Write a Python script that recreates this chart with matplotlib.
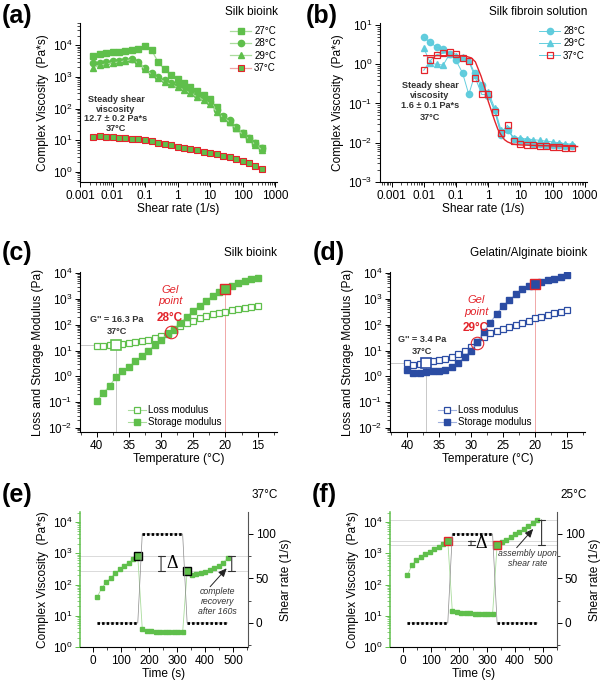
import matplotlib
matplotlib.use('Agg')
import matplotlib.pyplot as plt
from matplotlib import ticker

plt.rcParams['font.family'] = ['Liberation Sans', 'DejaVu Sans']
plt.rcParams['axes.linewidth'] = 0.8

# ---- data ----
# (a) silk bioink, complex viscosity vs shear rate
shear_a = [0.0025, 0.004, 0.0063, 0.01, 0.016, 0.025, 0.04, 0.063, 0.1, 0.16, 0.25, 0.4, 0.63,
           1, 1.6, 2.5, 4, 6.3, 10, 16, 25, 40, 63, 100, 160, 250, 400]
visc_27 = [4510, 5080, 5470, 5880, 6170, 6480, 6960, 7850, 9300, 6960, 2990, 1710, 1135, 830, 621,
           488, 365, 266, 195, 109, 55, 38, 23.7, 16.5, 11.5, 8.4, 5.6]
visc_28 = [2650, 2780, 2920, 3060, 3210, 3370, 3630, 2990, 1930, 1280, 960, 790, 652, 550, 432,
           356, 266, 209, 164, 90, 58, 43, 25.5, 17.3, 11.5, 8.0, 5.6]
visc_29 = [1930, 2340, 2520, 2780, 2920, 3210, 3530, 2660, 1760, 1190, 890, 700, 575, 465, 385,
           300, 235, 185, 140, 80, 52, 38, 23.7, 15.5, 10.8, 7.1, 4.9]
visc_37 = [13.0, 13.6, 12.4, 12.4, 12.1, 11.8, 11.2, 11.0, 10.2, 9.25, 8.4, 7.6, 6.9, 6.3, 5.7,
           5.3, 4.8, 4.26, 3.96, 3.6, 3.19, 2.9, 2.57, 2.22, 1.87, 1.55, 1.24]

# (b) silk fibroin solution
shear_b = [0.01, 0.016, 0.025, 0.04, 0.063, 0.1, 0.16, 0.25, 0.4, 0.63, 1, 1.6, 2.5, 4, 6.3,
           10, 16, 25, 40, 63, 100, 160, 250, 400]
visc_b28 = [4.8, 3.6, 2.7, 2.4, 1.8, 1.25, 0.6, 0.17, 0.6, 0.3, 0.155, 0.068, 0.016, 0.021,
            0.0128, 0.0115, 0.011, 0.0095, 0.0092, 0.009, 0.0088, 0.0087, 0.0085, 0.0082]
visc_b29 = [2.6, 1.05, 1.0, 0.95, 1.8, 1.6, 1.5, 1.3, 0.53, 0.25, 0.2, 0.076, 0.021, 0.023,
            0.013, 0.013, 0.0125, 0.012, 0.0115, 0.011, 0.0105, 0.01, 0.0095, 0.0092]
visc_b37 = [0.7, 1.25, 1.75, 1.9, 2.0, 1.8, 1.45, 1.2, 0.45, 0.17, 0.17, 0.062, 0.018, 0.028,
            0.011, 0.0095, 0.009, 0.0088, 0.0085, 0.0082, 0.008, 0.0078, 0.0075, 0.0072]
fit_x = [0.01, 0.1, 0.2, 0.3, 0.4, 0.6, 0.8, 1.0, 1.3, 1.6, 2.0, 2.5, 3.2, 4, 6, 10, 30, 100, 600]
fit_y = [1.65, 1.65, 1.6, 1.45, 1.15, 0.5, 0.24, 0.115, 0.06, 0.036, 0.022, 0.016, 0.012,
         0.0105, 0.0092, 0.0088, 0.0085, 0.0083, 0.008]

# (c)/(d) temperature sweeps
temp = [40, 39, 38, 37, 36, 35, 34, 33, 32, 31, 30, 29, 28, 27, 26, 25, 24, 23, 22, 21, 20,
        19, 18, 17, 16, 15]
loss_c = [14.9, 14.9, 15.8, 16.3, 17.8, 19.5, 20.7, 23.3, 26.2, 30.4, 36.3, 46, 62, 91, 112,
          143, 175, 216, 251, 274, 309, 358, 392, 441, 482, 527]
storage_c = [0.114, 0.22, 0.43, 0.94, 1.56, 2.36, 3.8, 5.9, 9.8, 16.3, 26.2, 43, 66, 112, 204,
             337, 543, 848, 1285, 1780, 2400, 3130, 3970, 4890, 5680, 6400]
loss_d = [3.2, 2.76, 3.0, 3.4, 3.83, 4.3, 4.7, 5.8, 7.4, 9.9, 14.1, 20.8, 32.5, 46, 57, 68, 84,
          98, 120, 144, 177, 205, 238, 276, 320, 371]
storage_d = [1.77, 1.31, 1.31, 1.52, 1.66, 1.66, 1.77, 2.24, 3.2, 5.8, 9.9, 22, 54, 120, 260,
             530, 905, 1500, 2340, 3150, 3700, 4500, 5300, 6100, 7200, 8300]
gel_c = (28.5, 50)
gel_d = (29, 19)

# (e)/(f) recovery tests
time_s = [16, 32, 48, 64, 80, 96, 112, 128, 144, 160, 176, 192, 208, 224, 240, 256, 272, 288,
          304, 320, 336, 352, 368, 384, 400, 416, 432, 448, 464, 480]
visc_e = [40.8, 79, 117, 166, 228, 305, 401, 500, 639, 796, 3.77, 3.33, 3.17, 3.1, 3.02, 3.0,
          3.0, 3.0, 3.0, 3.0, 270, 201, 211, 228, 251, 284, 329, 391, 500, 689]
visc_f = [201, 421, 608, 776, 923, 1122, 1334, 1622, 1928, 2466, 14.6, 12.9, 12.3, 11.9, 11.9,
          11.6, 11.6, 11.6, 11.4, 11.4, 1790, 2232, 2722, 3311, 4030, 4900, 5820, 7260, 9060, 11590]
shear_time = [16, 160, 176, 320, 336, 480]
shear_rate = [0, 0, 100, 100, 0, 0]
key_idx = [9, 20]

GREEN = '#5fbf4b'
GREEN_LINE = '#a9dc9c'
CYAN = '#5ccbdc'
BLUE = '#2b4ca3'
BLUE_LINE = '#9fb0dd'
RED = '#e3242b'
LAB = 8.6

W, H = 600, 682
fig = plt.figure(figsize=(6, 6.82), dpi=100)


def px_axes(l, t, r, b):
    return fig.add_axes([l / W, 1 - b / H, (r - l) / W, (b - t) / H])


def ftext(x, y, s, **kw):
    kw.setdefault('va', 'center')
    fig.text(x / W, 1 - y / H, s, **kw)


def style_ax(ax):
    ax.spines['top'].set_visible(False)
    ax.spines['right'].set_visible(False)
    ax.tick_params(which='major', direction='out', length=3.5, width=0.7, labelsize=8.5, pad=2)
    ax.tick_params(which='minor', direction='out', length=2, width=0.5)


def log_y(ax):
    ax.set_yscale('log')
    ax.yaxis.set_major_locator(ticker.LogLocator(base=10, numticks=12))
    ax.yaxis.set_minor_locator(ticker.LogLocator(base=10, subs=range(2, 10), numticks=12))
    ax.yaxis.set_minor_formatter(ticker.NullFormatter())


def log_x(ax):
    ax.set_xscale('log')
    ax.xaxis.set_major_locator(ticker.LogLocator(base=10, numticks=12))
    ax.xaxis.set_minor_locator(ticker.LogLocator(base=10, subs=range(2, 10), numticks=12))
    ax.xaxis.set_major_formatter(ticker.FuncFormatter(lambda v, p: f'{v:g}'))
    ax.xaxis.set_minor_formatter(ticker.NullFormatter())


leg_kw = dict(frameon=False, fontsize=7, handlelength=2.2, handletextpad=0.3,
              labelspacing=0.25, borderpad=0, borderaxespad=0,
              bbox_transform=fig.transFigure)
note = dict(fontsize=6.6, fontweight='bold', ha='center', color='#333333')

# ---------------- (a) ----------------
ax = px_axes(80, 23, 277, 182)
style_ax(ax)
log_x(ax)
log_y(ax)
ax.plot(shear_a, visc_27, '-s', color=GREEN_LINE, mfc=GREEN, mec=GREEN, ms=4, lw=0.9, label='27°C')
ax.plot(shear_a, visc_28, '-o', color=GREEN_LINE, mfc=GREEN, mec=GREEN, ms=4.5, lw=0.9, label='28°C')
ax.plot(shear_a, visc_29, '-^', color=GREEN_LINE, mfc=GREEN, mec=GREEN, ms=4.5, lw=0.9, label='29°C')
ax.plot(shear_a, visc_37, '-s', color='#f2a3a3', mfc=GREEN, mec=RED, mew=0.8, ms=4.3, lw=0.9,
        label='37°C')
ax.set_xlim(10 ** -3.0, 10 ** 3.06)
ax.set_ylim(10 ** -0.32, 10 ** 4.7)
ax.set_xlabel('Shear rate (1/s)', fontsize=LAB, labelpad=1)
ax.set_ylabel('Complex Viscosity  (Pa*s)', fontsize=LAB, labelpad=3)
ax.legend(loc='upper right', bbox_to_anchor=(276 / W, 1 - 26 / H), **leg_kw)
ftext(116, 100, 'Steady shear', **note)
ftext(116, 109, 'viscosity', **note)
ftext(116, 118.5, '12.7 ± 0.2 Pa*s', **note)
ftext(116, 128.5, '37°C', **note)
ftext(2, 16, '(a)', fontsize=18, fontweight='bold', ha='left')
ftext(278, 12, 'Silk bioink', fontsize=8.5, ha='right')

# ---------------- (b) ----------------
ax = px_axes(380, 23, 587, 182)
style_ax(ax)
log_x(ax)
log_y(ax)
ax.plot(shear_b, visc_b28, '-o', color=CYAN, mfc=CYAN, mec=CYAN, ms=4.5, lw=0.7, alpha=0.95,
        label='28°C')
ax.plot(shear_b, visc_b29, '-^', color=CYAN, mfc=CYAN, mec=CYAN, ms=4.5, lw=0.7, alpha=0.95,
        label='29°C')
ax.plot(shear_b, visc_b37, '-s', color=CYAN, mfc='none', mec=RED, mew=0.9, ms=4.5, lw=0.7,
        label='37°C')
ax.plot(fit_x, fit_y, '-', color=RED, lw=1.0)
ax.set_xlim(10 ** -3.36, 10 ** 3.07)
ax.set_ylim(1e-3, 10 ** 1.05)
ax.set_xlabel('Shear rate (1/s)', fontsize=LAB, labelpad=1)
ax.set_ylabel('Complex Viscosity  (Pa*s)', fontsize=LAB, labelpad=3)
ax.legend(loc='upper right', bbox_to_anchor=(585 / W, 1 - 26 / H), **leg_kw)
ftext(430, 86, 'Steady shear', **note)
ftext(430, 95, 'viscosity', **note)
ftext(430, 106, '1.6 ± 0.1 Pa*s', **note)
ftext(430, 117, '37°C', **note)
ftext(306, 16, '(b)', fontsize=18, fontweight='bold', ha='left')
ftext(587, 12, 'Silk fibroin solution', fontsize=8.5, ha='right')


# ---------------- (c) / (d) ----------------
def modulus_panel(box, loss, storage, col, line_col, gel, xlim):
    ax = px_axes(*box)
    style_ax(ax)
    log_y(ax)
    ax.plot(temp, loss, '-s', color=line_col, mfc='white', mec=col, mew=0.9, ms=3.8, lw=0.8,
            label='Loss modulus')
    ax.plot(temp, storage, '-s', color=line_col, mfc=col, mec=col, ms=3.8, lw=0.8,
            label='Storage modulus')
    ax.set_xlim(*xlim)
    ax.set_ylim(10 ** -2.155, 10 ** 4.04)
    ax.xaxis.set_major_locator(ticker.MultipleLocator(5))
    ax.xaxis.set_minor_locator(ticker.MultipleLocator(2.5))
    y0 = ax.get_ylim()[0]
    i37 = temp.index(37)
    i20 = temp.index(20)
    ax.vlines(37, y0, loss[i37], color='#c8c8c8', lw=0.7, zorder=1)
    ax.hlines(loss[i37], xlim[0], 37, color='#c8c8c8', lw=0.7, zorder=1)
    ax.vlines(20, y0, storage[i20], color='#f0a8a8', lw=0.7, zorder=1)
    ax.plot(37, loss[i37], 's', ms=7.5, mfc='white', mec=col, mew=1.2, zorder=4)
    ax.plot(20, storage[i20], 's', ms=7.5, mfc=col, mec=RED, mew=1.0, zorder=4)
    ax.plot(*gel, 'o', ms=9, mfc='none', mec=RED, mew=0.8, zorder=5)
    ax.set_xlabel('Temperature (°C)', fontsize=LAB, labelpad=1)
    ax.set_ylabel('Loss and Storage Modulus (Pa)', fontsize=LAB, labelpad=3)
    left = box[0]
    ax.legend(loc='upper left', bbox_to_anchor=((left + 48) / W, 1 - 405 / H),
              **dict(leg_kw, handlelength=1.8))
    return ax


modulus_panel((80, 272, 277, 432), loss_c, storage_c, GREEN, GREEN_LINE, gel_c, (42.6, 12.0))
ftext(170, 290, 'Gel', fontsize=8, style='italic', ha='center', color=RED)
ftext(170, 301, 'point', fontsize=8, style='italic', ha='center', color=RED)
ftext(170, 318, '28°C', fontsize=8.5, fontweight='bold', ha='center', color=RED)
ftext(117, 320, "G'' = 16.3 Pa", **note)
ftext(117, 332, '37°C', **note)
ftext(2, 253, '(c)', fontsize=18, fontweight='bold', ha='left')
ftext(277, 253, 'Silk bioink', fontsize=8.5, ha='right')

modulus_panel((390, 272, 585, 432), loss_d, storage_d, BLUE, BLUE_LINE, gel_d, (42.65, 12.2))
ftext(476, 300, 'Gel', fontsize=8, style='italic', ha='center', color=RED)
ftext(476, 312, 'point', fontsize=8, style='italic', ha='center', color=RED)
ftext(476, 328, '29°C', fontsize=8.5, fontweight='bold', ha='center', color=RED)
ftext(422, 340, "G'' = 3.4 Pa", **note)
ftext(422, 352, '37°C', **note)
ftext(313, 253, '(d)', fontsize=18, fontweight='bold', ha='left')
ftext(587, 253, 'Gelatin/Alginate bioink', fontsize=8.5, ha='right')


# ---------------- (e) / (f) ----------------
def recovery_panel(box, visc, mark_col, xlim):
    ax = px_axes(*box)
    ax.set_yscale('log')
    ax.yaxis.set_major_locator(ticker.LogLocator(base=10, numticks=12))
    ax.yaxis.set_minor_locator(ticker.LogLocator(base=10, subs=range(2, 10), numticks=12))
    ax.yaxis.set_minor_formatter(ticker.NullFormatter())
    for s in ['top', 'right']:
        ax.spines[s].set_visible(False)
    ax.spines['left'].set_color(GREEN)
    ax.spines['left'].set_linewidth(1.1)
    ax.tick_params(which='major', direction='out', length=3.5, width=0.7, labelsize=8.5, pad=2)
    ax.tick_params(which='minor', direction='out', length=2, width=0.5)
    ax.tick_params(axis='y', which='both', color=GREEN)
    for i in key_idx:
        ax.axhline(visc[i], color='#d4d4d4', lw=0.6, zorder=0)
    ax.plot(time_s, visc, '-s', color=GREEN_LINE, mfc=GREEN, mec=GREEN, ms=3.2, lw=0.6, zorder=3)
    for i in key_idx:
        ax.plot(time_s[i], visc[i], 's', ms=6, mfc=GREEN, mec=mark_col, mew=1.0, zorder=4)
    ax.set_xlim(*xlim)
    ax.set_ylim(1, 10 ** 4.32)
    ax.xaxis.set_major_locator(ticker.MultipleLocator(100))
    ax.xaxis.set_minor_locator(ticker.MultipleLocator(50))
    ax.set_xlabel('Time (s)', fontsize=LAB, labelpad=1)
    ax.set_ylabel('Complex Viscosity  (Pa*s)', fontsize=LAB, labelpad=3)

    ax2 = ax.twinx()
    for s in ['top', 'left', 'bottom']:
        ax2.spines[s].set_visible(False)
    ax2.spines['right'].set_color('#555555')
    ax2.plot(shear_time, shear_rate, color='#8a8a8a', lw=0.5)
    for a in (0, 2, 4):
        ax2.plot(shear_time[a:a + 2], shear_rate[a:a + 2], color='black', lw=2.0,
                 ls=(0, (0.9, 0.75)))
    ax2.set_ylim(-27, 124.7)
    ax2.yaxis.set_major_locator(ticker.MultipleLocator(50))
    ax2.yaxis.set_minor_locator(ticker.MultipleLocator(25))
    ax2.tick_params(which='major', direction='out', length=3.5, width=0.7, labelsize=8.5, pad=2)
    ax2.tick_params(which='minor', direction='out', length=2, width=0.5)
    ax2.set_ylabel('Shear rate (1/s)', fontsize=LAB, labelpad=3)
    return ax


bar = dict(arrowstyle='|-|,widthA=0.25,widthB=0.25', lw=0.8, color='#333333',
           shrinkA=0, shrinkB=0)
arrow = dict(arrowstyle='-|>,head_length=0.5,head_width=0.22', lw=0.7, color='#222222',
             shrinkA=0, shrinkB=0)

ax = recovery_panel((80, 512, 248, 647), visc_e, 'black', (-46, 553))
ax.annotate('', xy=(243, visc_e[9]), xytext=(243, visc_e[20]), arrowprops=bar)
ax.text(262, 460, 'Δ', family='Liberation Serif', fontsize=13, va='center', ha='left')
ax.annotate('', xy=(495, visc_e[9]), xytext=(495, visc_e[20]), arrowprops=bar)
ax.annotate('', xy=(477, 330), xytext=(418, 85), arrowprops=arrow)
ax.text(445, 28, 'complete\nrecovery\nafter 160s', fontsize=6.3, style='italic',
        ha='center', va='center', linespacing=1.15, color='#333333')
ftext(2, 495, '(e)', fontsize=18, fontweight='bold', ha='left')
ftext(278, 495, '37°C', fontsize=8.5, ha='right')

ax = recovery_panel((390, 512, 557, 647), visc_f, RED, (-46.4, 550))
ax.axhline(visc_f[-1], color='#d4d4d4', lw=0.6, zorder=0)
ax.annotate('', xy=(243, visc_f[9]), xytext=(243, visc_f[20]), arrowprops=bar)
ax.text(257, 2100, 'Δ', family='Liberation Serif', fontsize=13, va='center', ha='left')
ax.annotate('', xy=(495, visc_f[-1]), xytext=(495, visc_f[20]), arrowprops=bar)
ax.annotate('', xy=(465, 6000), xytext=(406, 1510), arrowprops=arrow)
ax.text(446, 700, 'assembly upon\nshear rate', fontsize=6.3, style='italic',
        ha='center', va='center', linespacing=1.15, color='#333333')
ftext(312, 495, '(f)', fontsize=18, fontweight='bold', ha='left')
ftext(587, 495, '25°C', fontsize=8.5, ha='right')

fig.savefig('out.png', dpi=100)
